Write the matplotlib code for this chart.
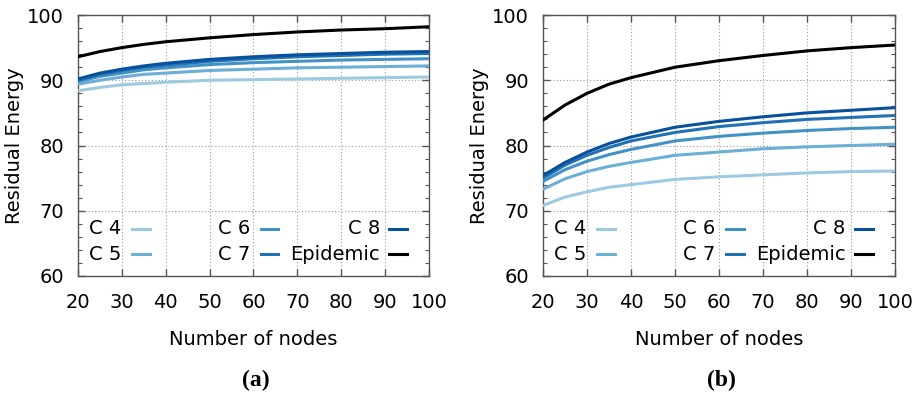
import matplotlib
matplotlib.use("Agg")
import matplotlib.pyplot as plt
from matplotlib.ticker import MultipleLocator
from matplotlib.lines import Line2D

nodes = [20, 25, 30, 35, 40, 50, 60, 70, 80, 90, 100]

a_c4 = [88.4, 88.9, 89.3, 89.5, 89.7, 90.0, 90.1, 90.2, 90.3, 90.4, 90.5]
a_c5 = [89.4, 90.0, 90.5, 90.9, 91.1, 91.5, 91.7, 91.9, 92.0, 92.1, 92.2]
a_c6 = [89.8, 90.6, 91.1, 91.6, 91.9, 92.4, 92.7, 92.9, 93.1, 93.2, 93.3]
a_c7 = [90.0, 90.9, 91.5, 92.0, 92.3, 92.9, 93.3, 93.6, 93.8, 94.0, 94.1]
a_c8 = [90.2, 91.1, 91.7, 92.2, 92.6, 93.2, 93.6, 93.9, 94.1, 94.3, 94.4]
a_epi = [93.6, 94.4, 95.0, 95.5, 95.9, 96.5, 97.0, 97.4, 97.7, 97.9, 98.2]

b_c4 = [70.8, 72.1, 72.9, 73.6, 74.0, 74.8, 75.2, 75.5, 75.8, 76.0, 76.1]
b_c5 = [73.3, 74.9, 76.0, 76.8, 77.4, 78.5, 79.0, 79.5, 79.8, 80.0, 80.2]
b_c6 = [74.5, 76.3, 77.6, 78.6, 79.4, 80.7, 81.4, 81.9, 82.3, 82.6, 82.8]
b_c7 = [75.0, 77.0, 78.5, 79.7, 80.7, 82.0, 82.9, 83.5, 84.0, 84.3, 84.6]
b_c8 = [75.4, 77.4, 79.0, 80.3, 81.3, 82.8, 83.7, 84.4, 85.0, 85.4, 85.8]
b_epi = [83.9, 86.2, 88.0, 89.4, 90.4, 92.0, 93.0, 93.8, 94.5, 95.0, 95.4]

labels = ["C 4", "C 5", "C 6", "C 7", "C 8", "Epidemic"]
colors = ["#9ecae1", "#6baed6", "#4292c6", "#2171b5", "#08519c", "#000000"]
xticks = [20, 30, 40, 50, 60, 70, 80, 90, 100]
yticks = [60, 70, 80, 90, 100]

plt.rcParams['font.family'] = ['DejaVu Sans']

fig = plt.figure(figsize=(9.21, 3.94), dpi=100)
ax_a = fig.add_axes([0.0847, 0.2995, 0.381, 0.6624])
ax_b = fig.add_axes([0.5896, 0.2995, 0.3822, 0.6624])

panels = [
    (ax_a, [a_c4, a_c5, a_c6, a_c7, a_c8, a_epi], "(a)"),
    (ax_b, [b_c4, b_c5, b_c6, b_c7, b_c8, b_epi], "(b)"),
]

# legend layout: (text right x, handle x0, handle x1) in axes fractions
col_pos = [(0.1225, 0.154, 0.205), (0.49, 0.521, 0.570), (0.860, 0.886, 0.937)]
row_y = [0.181, 0.084]

FS = 14

for ax, series, tag in panels:
    for vals, lab, col in zip(series, labels, colors):
        ax.plot(nodes, vals, color=col, lw=2.2, solid_capstyle='round',
                solid_joinstyle='round', zorder=3)
    ax.set_xlim(20, 100)
    ax.set_ylim(60, 100)
    ax.set_xticks(xticks)
    ax.set_yticks(yticks)
    ax.yaxis.set_minor_locator(MultipleLocator(2))
    ax.grid(True, which='major', linestyle=(0, (1, 2)), color='#999999', lw=0.8)
    ax.tick_params(which='both', direction='in', top=True, right=True,
                   color='#555555', labelsize=FS)
    ax.tick_params(which='major', length=5, width=1)
    ax.tick_params(which='minor', length=3, width=0.8)
    ax.tick_params(axis='y', pad=10)
    ax.tick_params(axis='x', pad=12)
    for s in ax.spines.values():
        s.set_color('#555555')
        s.set_linewidth(1.0)
    ax.set_xlabel("Number of nodes", fontsize=FS, labelpad=13)
    ax.set_ylabel("Residual Energy", fontsize=FS, labelpad=2)
    # legend drawn manually (text right-justified, sample to the right)
    for i, (lab, col) in enumerate(zip(labels, colors)):
        c, r = divmod(i, 2)
        tx, hx0, hx1 = col_pos[c]
        y = row_y[r]
        ax.text(tx, y, lab, transform=ax.transAxes, ha='right', va='center',
                fontsize=FS, zorder=5)
        ax.add_line(Line2D([hx0, hx1], [y, y], transform=ax.transAxes,
                           color=col, lw=2.2, zorder=5))
    bb = ax.get_position()
    fig.text(bb.x0 + bb.width / 2 + 0.003, 0.035, tag, ha='center', va='center',
             fontsize=17, fontweight='bold', family='Liberation Serif')

fig.savefig("out.png", dpi=100)
